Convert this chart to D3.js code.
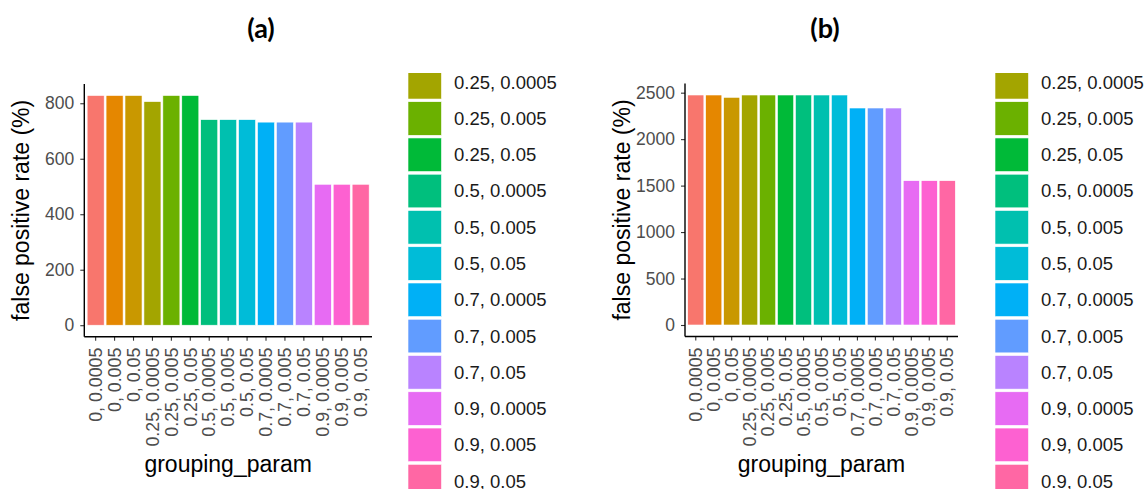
<!DOCTYPE html>
<html>
<head>
<meta charset="utf-8">
<script src="https://cdn.jsdelivr.net/npm/d3@7"></script>
<style>
  html, body { margin: 0; padding: 0; background: #fff; }
  svg { display: block; }
</style>
</head>
<body>
<svg id="chart" width="1144" height="489"></svg>
<script>
// grouping_param levels (cluster threshold, p-value cutoff)
const categories = [
  "0, 0.0005", "0, 0.005", "0, 0.05",
  "0.25, 0.0005", "0.25, 0.005", "0.25, 0.05",
  "0.5, 0.0005", "0.5, 0.005", "0.5, 0.05",
  "0.7, 0.0005", "0.7, 0.005", "0.7, 0.05",
  "0.9, 0.0005", "0.9, 0.005", "0.9, 0.05"
];

// false positive rate (%) per grouping_param
const fprA = [828, 828, 828, 806, 828, 828, 741, 741, 741, 732, 732, 732, 508, 508, 508];
const fprB = [2475, 2475, 2450, 2475, 2475, 2475, 2475, 2475, 2475, 2335, 2335, 2335, 1553, 1553, 1553];

const ticksA = [0, 200, 400, 600, 800];
const ticksB = [0, 500, 1000, 1500, 2000, 2500];

const titles = ["(a)", "(b)"];

// default discrete hue palette for 15 levels
const palette = [
  "#F8766D", "#E58700", "#C99800", "#A3A500", "#6BB100",
  "#00BA38", "#00BF7D", "#00C0AF", "#00BCD8", "#00B0F6",
  "#619CFF", "#B983FF", "#E76BF3", "#FD61D1", "#FF67A4"
];

const svg = d3.select("#chart");
const color = d3.scaleOrdinal().domain(categories).range(palette);

const panels = [
  { values: fprA, ticks: ticksA, title: titles[0], left: 84.3, right: 372, top: 84, bottom: 336.7,
    titleX: 261, legendX: 408, legendTextX: 454 },
  { values: fprB, ticks: ticksB, title: titles[1], left: 685, right: 958, top: 83.5, bottom: 336.5,
    titleX: 825, legendX: 995, legendTextX: 1041 }
];

const legendPitch = 36.26;
const legendFirstTop = 101.7 - 4 * legendPitch;  // top of first key (above the visible strip)
const legendClipTop = 73;

panels.forEach((p, idx) => {
  const g = svg.append("g");
  const maxV = d3.max(p.values);
  const y = d3.scaleLinear()
    .domain([-0.05 * maxV, 1.05 * maxV])
    .range([p.bottom, p.top]);
  const x = d3.scaleBand()
    .domain(categories)
    .range([p.left, p.right])
    .paddingInner(0.1)
    .paddingOuter(0.15);

  // bars
  g.selectAll("rect.bar")
    .data(categories.map((c, i) => ({ c, v: p.values[i] })))
    .join("rect")
    .attr("class", "bar")
    .attr("x", d => x(d.c))
    .attr("width", x.bandwidth())
    .attr("y", d => y(d.v))
    .attr("height", d => y(0) - y(d.v))
    .attr("fill", d => color(d.c))
    .attr("stroke", "#ffffff")
    .attr("stroke-width", 0.6);

  // y axis
  const yAxis = g.append("g")
    .attr("transform", `translate(${p.left},0)`)
    .call(d3.axisLeft(y).tickValues(p.ticks).tickSize(4).tickPadding(6).tickFormat(d3.format("d")));
  yAxis.select(".domain").remove();
  yAxis.selectAll(".tick line").attr("stroke", "#333333").attr("stroke-width", 1.1);
  yAxis.selectAll(".tick text")
    .attr("fill", "#4D4D4D")
    .style("font-family", "'Liberation Sans', Arial, sans-serif")
    .style("font-size", "17.5px");
  g.append("line")
    .attr("x1", p.left).attr("x2", p.left)
    .attr("y1", p.top).attr("y2", p.bottom)
    .attr("stroke", "#000").attr("stroke-width", 1.4);

  // x axis
  const xAxis = g.append("g")
    .attr("transform", `translate(0,${p.bottom})`)
    .call(d3.axisBottom(x).tickSize(4).tickPadding(0));
  xAxis.select(".domain").remove();
  xAxis.selectAll(".tick line").attr("stroke", "#333333").attr("stroke-width", 1.1);
  xAxis.selectAll(".tick text")
    .attr("fill", "#4D4D4D")
    .attr("text-anchor", "end")
    .attr("transform", "translate(0,11) rotate(-90)")
    .attr("x", 0)
    .attr("y", 0)
    .attr("dy", "0.35em")
    .style("font-family", "'Liberation Sans', Arial, sans-serif")
    .style("font-size", "17.8px");
  g.append("line")
    .attr("x1", p.left).attr("x2", p.right)
    .attr("y1", p.bottom).attr("y2", p.bottom)
    .attr("stroke", "#000").attr("stroke-width", 1.4);

  // axis titles
  g.append("text")
    .attr("x", (p.left + p.right) / 2)
    .attr("y", 472)
    .attr("text-anchor", "middle")
    .attr("fill", "#000")
    .style("font-family", "'Liberation Sans', Arial, sans-serif")
    .style("font-size", "23px")
    .text("grouping_param");

  g.append("text")
    .attr("transform", `translate(${p.left - 55},${(p.top + p.bottom) / 2}) rotate(-90)`)
    .attr("text-anchor", "middle")
    .attr("fill", "#000")
    .style("font-family", "'Liberation Sans', Arial, sans-serif")
    .style("font-size", "23px")
    .text("false positive rate (%)");

  // panel title
  g.append("text")
    .attr("x", p.titleX)
    .attr("y", 38)
    .attr("text-anchor", "middle")
    .attr("fill", "#000")
    .style("font-family", "Lato, 'Open Sans', sans-serif")
    .style("font-weight", "bold")
    .style("font-size", "27px")
    .text(p.title);

  // legend, clipped to the visible strip
  const clipId = "legclip" + idx;
  svg.append("clipPath").attr("id", clipId)
    .append("rect")
    .attr("x", p.legendX - 5).attr("y", legendClipTop)
    .attr("width", 200).attr("height", 489 - legendClipTop);
  const leg = svg.append("g").attr("clip-path", `url(#${clipId})`);
  const items = leg.selectAll("g.item")
    .data(categories.map((c, i) => ({ c, top: legendFirstTop + i * legendPitch })))
    .join("g")
    .attr("class", "item")
    .attr("transform", d => `translate(0,${d.top})`);
  items.append("rect")
    .attr("x", p.legendX)
    .attr("y", 0)
    .attr("width", 33.5)
    .attr("height", 33.6)
    .attr("fill", d => color(d.c))
    .attr("stroke", "#ffffff")
    .attr("stroke-width", 0.6);
  // labels only for entries whose text falls inside the strip
  items.filter(d => d.top + 16.8 > legendClipTop + 8)
    .append("text")
    .attr("x", p.legendTextX)
    .attr("y", 16.8)
    .attr("dy", "0.35em")
    .attr("fill", "#1A1A1A")
    .style("font-family", "'Liberation Sans', Arial, sans-serif")
    .style("font-size", "18.5px")
    .text(d => d.c);
});
</script>
</body>
</html>
